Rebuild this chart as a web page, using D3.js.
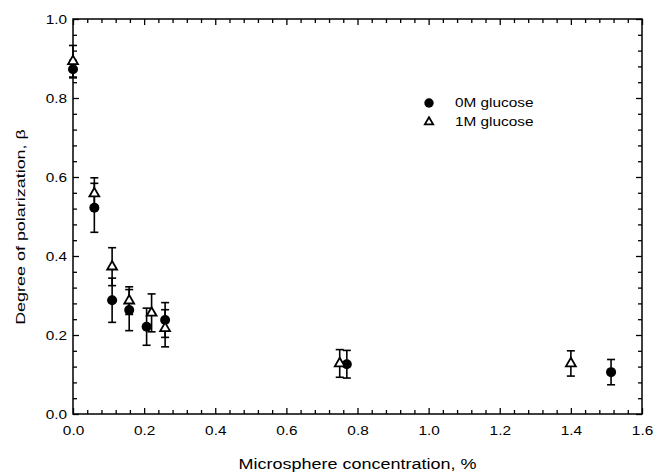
<!DOCTYPE html>
<html>
<head>
<meta charset="utf-8">
<script src="https://cdn.jsdelivr.net/npm/d3@7"></script>
<style>
    body { margin: 0; background: white; }
    svg { display: block; font-family: "Liberation Sans", Arial, sans-serif; }
</style>
</head>
<body>
<div id="chart"></div>
<script>
// values
const conc0M = [0.0, 0.06, 0.11, 0.158, 0.207, 0.259, 0.77, 1.513];
const beta0M = [0.873, 0.522, 0.288, 0.263, 0.221, 0.238, 0.126, 0.106];
const err0M = [0.022, 0.062, 0.056, 0.052, 0.047, 0.044, 0.035, 0.032];

const conc1M = [0.0, 0.06, 0.11, 0.158, 0.221, 0.259, 0.75, 1.40];
const beta1M = [0.893, 0.558, 0.373, 0.287, 0.256, 0.217, 0.128, 0.128];
const err1M = [0.04, 0.04, 0.048, 0.035, 0.048, 0.047, 0.035, 0.032];

const xTicks = [0.0, 0.2, 0.4, 0.6, 0.8, 1.0, 1.2, 1.4, 1.6];
const yTicks = [0.0, 0.2, 0.4, 0.6, 0.8, 1.0];
const seriesNames = ["0M glucose", "1M glucose"];

const width = 654;
const height = 474;
const margin = { top: 19, right: 12, bottom: 60, left: 73 };

// the original type is wide, so stretch text along its baseline
const stretch = 1.28;

const series0 = conc0M.map((c, i) => ({ x: c, y: beta0M[i], e: err0M[i] }));
const series1 = conc1M.map((c, i) => ({ x: c, y: beta1M[i], e: err1M[i] }));

const svg = d3.select("#chart")
    .append("svg")
    .attr("width", width)
    .attr("height", height);

const x = d3.scaleLinear().domain([0, 1.6]).range([margin.left, width - margin.right]);
const y = d3.scaleLinear().domain([0, 1.0]).range([height - margin.top - margin.bottom + margin.top, margin.top]);

const xMinor = d3.range(0, 1.6001, 0.04).filter(v => Math.abs(v / 0.2 - Math.round(v / 0.2)) > 1e-6);
const yMinor = d3.range(0, 1.0001, 0.04).filter(v => Math.abs(v / 0.2 - Math.round(v / 0.2)) > 1e-6);

const bottomY = y(0);
const topY = y(1);
const leftX = x(0);
const rightX = x(1.6);

// inward ticks on all four sides
function addTicks(axisFn, scale, values, size, translate, showLabels) {
    const g = svg.append("g")
        .attr("transform", translate)
        .call(axisFn(scale).tickValues(values).tickSize(-size).tickSizeOuter(0)
            .tickFormat(showLabels ? d3.format(".1f") : ""));
    g.select(".domain").remove();
    g.selectAll(".tick line").attr("stroke", "black").attr("stroke-width", 1.3);
    return g;
}

const xLab = addTicks(d3.axisBottom, x, xTicks, 6, `translate(0,${bottomY})`, true);
addTicks(d3.axisBottom, x, xMinor, 4, `translate(0,${bottomY})`, false);
addTicks(d3.axisTop, x, xTicks, 6, `translate(0,${topY})`, false);
addTicks(d3.axisTop, x, xMinor, 4, `translate(0,${topY})`, false);
const yLab = addTicks(d3.axisLeft, y, yTicks, 6, `translate(${leftX},0)`, true);
addTicks(d3.axisLeft, y, yMinor, 4, `translate(${leftX},0)`, false);
addTicks(d3.axisRight, y, yTicks, 6, `translate(${rightX},0)`, false);
addTicks(d3.axisRight, y, yMinor, 4, `translate(${rightX},0)`, false);

xLab.selectAll(".tick text")
    .attr("y", null).attr("dy", null)
    .attr("font-size", 12).attr("fill", "black")
    .attr("transform", `translate(0,21) scale(${stretch},1)`);

yLab.selectAll(".tick text")
    .attr("x", null).attr("dy", null)
    .attr("font-size", 12).attr("fill", "black")
    .attr("transform", `translate(-6,4.3) scale(${stretch},1)`);

svg.append("rect")
    .attr("x", leftX)
    .attr("y", topY)
    .attr("width", rightX - leftX)
    .attr("height", bottomY - topY)
    .attr("fill", "none")
    .attr("stroke", "black")
    .attr("stroke-width", 1.5);

// error bars
const cap = 4;
function drawErrors(data) {
    const g = svg.append("g").attr("stroke", "black").attr("stroke-width", 1.6).attr("fill", "none");
    data.forEach(d => {
        const cx = x(d.x);
        const hi = y(d.y + d.e);
        const lo = y(d.y - d.e);
        g.append("line").attr("x1", cx).attr("x2", cx).attr("y1", hi).attr("y2", lo);
        g.append("line").attr("x1", cx - cap).attr("x2", cx + cap).attr("y1", hi).attr("y2", hi);
        g.append("line").attr("x1", cx - cap).attr("x2", cx + cap).attr("y1", lo).attr("y2", lo);
    });
}
drawErrors(series0);
drawErrors(series1);

const triangle = d3.symbol(d3.symbolTriangle).size(42);

svg.append("g")
    .selectAll("circle")
    .data(series0)
    .join("circle")
    .attr("cx", d => x(d.x))
    .attr("cy", d => y(d.y))
    .attr("r", 5)
    .attr("fill", "black");

svg.append("g")
    .selectAll("path")
    .data(series1)
    .join("path")
    .attr("d", triangle)
    .attr("transform", d => `translate(${x(d.x)},${y(d.y)})`)
    .attr("fill", "white")
    .attr("stroke", "black")
    .attr("stroke-width", 1.8);

// legend
const legend = svg.append("g").attr("transform", "translate(429,103)");
legend.append("circle").attr("cx", 0).attr("cy", 0).attr("r", 4.7).attr("fill", "black");
legend.append("path")
    .attr("d", d3.symbol(d3.symbolTriangle).size(30))
    .attr("transform", "translate(0,19)")
    .attr("fill", "white")
    .attr("stroke", "black")
    .attr("stroke-width", 1.8);
legend.selectAll("text")
    .data(seriesNames)
    .join("text")
    .attr("transform", (d, i) => `translate(26,${4.3 + i * 19}) scale(${stretch},1)`)
    .attr("font-size", 12)
    .text(d => d);

// axis titles
svg.append("text")
    .attr("transform", `translate(${(leftX + rightX) / 2},469) scale(1.2,1)`)
    .attr("text-anchor", "middle")
    .attr("font-size", 15)
    .text("Microsphere concentration, %");

svg.append("text")
    .attr("transform", `translate(25,227) rotate(-90) scale(1.38,1)`)
    .attr("text-anchor", "middle")
    .attr("font-size", 13)
    .text("Degree of polarization, β");
</script>
</body>
</html>
